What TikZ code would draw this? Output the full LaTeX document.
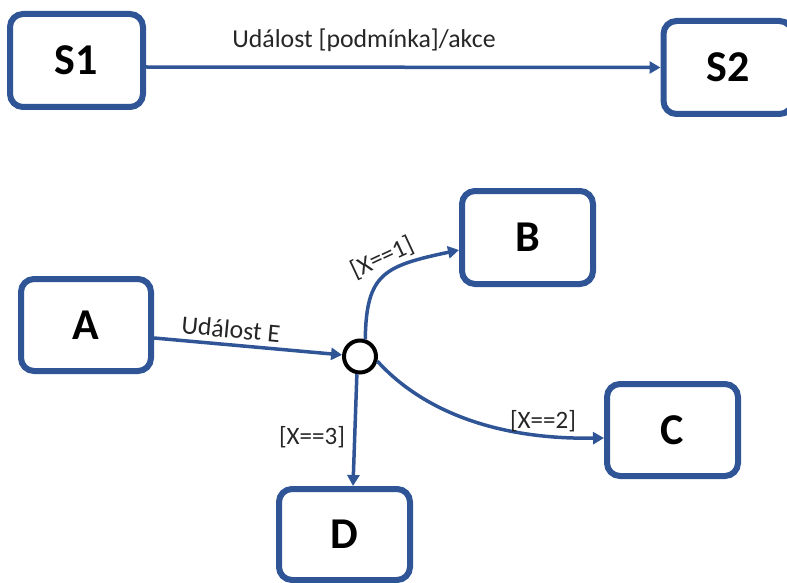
\documentclass[tikz,border=0pt]{standalone}
\usepackage{fontspec}
\setmainfont{Carlito}
\usetikzlibrary{arrows.meta}
\definecolor{stateblue}{RGB}{47,85,151}
\tikzset{
  state/.style={draw=stateblue, line width=6pt, rounded corners=13pt,
    fill=white, inner sep=0pt, font=\fontsize{44}{44}\selectfont\bfseries},
  junction/.style={draw=black, line width=4pt, circle, fill=white,
    minimum size=32pt, inner sep=0pt},
  trans/.style={draw=stateblue, line width=3.5pt,
    -{Triangle[length=11pt,width=12pt]}},
  lbl/.style={inner sep=0pt, text=black!85},
  lblbig/.style={lbl, font=\fontsize{25.8}{25.8}\selectfont},
  lblsmall/.style={lbl, font=\fontsize{25}{25}\selectfont},
}
\begin{document}
\begin{tikzpicture}[x=1pt, y=-1pt]
  \useasboundingbox (0,0) rectangle (787,583);
  \clip (0,0) rectangle (787,583);

  % states
  \node[state, minimum width=133pt, minimum height=93pt] (S1) at (76.5,60.5) {S1};
  \node[state, minimum width=129pt, minimum height=93pt] (S2) at (728,67.5) {S2};
  \node[state, minimum width=130pt, minimum height=92pt] (A) at (86,325) {A};
  \node[state, minimum width=131pt, minimum height=93pt] (B) at (527.5,237.5) {B};
  \node[state, minimum width=131pt, minimum height=92pt] (C) at (672.5,430) {C};
  \node[state, minimum width=131pt, minimum height=91pt] (D) at (344.5,534.5) {D};

  % choice point
  \node[junction] (J) at (360,356.5) {};

  % transitions
  \draw[trans] ([yshift=-6.5pt]S1.east) -- (S2.west);
  \draw[trans] ([yshift=-13pt]A.east) -- (J);
  \draw[trans] (J.73) .. controls +(1,-66) and +(-75,16) .. ([yshift=-12.5pt]B.west);
  \draw[trans] (J.-15) .. controls +(27,30) and +(-137,2) .. ([yshift=-8pt]C.west);
  \draw[trans] (J.-100) -- ([xshift=8.5pt]D.north);

  % labels
  \node[lblbig] (l1) at (364,40) {Událost [podmínka]/akce};
  \node[lblbig, rotate=-5.4] (l2) at (231,329) {Událost E};
  \node[lblsmall, rotate=25] (l3) at (382,258) {[X==1]};
  \node[lblsmall] (l4) at (543,421) {[X==2]};
  \node[lblsmall] (l5) at (312,437) {[X==3]};
\end{tikzpicture}
\end{document}
